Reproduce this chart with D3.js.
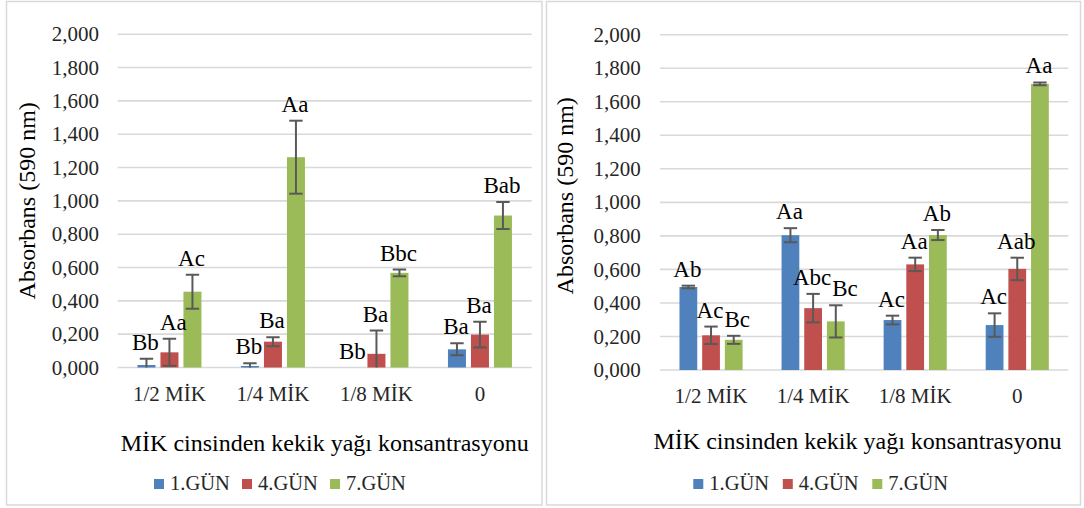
<!DOCTYPE html>
<html>
<head>
<meta charset="utf-8">
<script src="https://cdn.jsdelivr.net/npm/d3@7/dist/d3.min.js"></script>
<style>
  html, body { margin: 0; padding: 0; background: #ffffff; }
  svg { display: block; font-family: "Liberation Serif", "Times New Roman", serif; }
</style>
</head>
<body>
<svg id="chart" width="1084" height="508"></svg>
<script>
// Categories, series and tick labels
const categories = ["1/2 MİK", "1/4 MİK", "1/8 MİK", "0"];
const seriesNames = ["1.GÜN", "4.GÜN", "7.GÜN"];
const seriesColors = ["#4f81bd", "#c0504d", "#9bbb59"];
const tickValues = [0, 0.2, 0.4, 0.6, 0.8, 1.0, 1.2, 1.4, 1.6, 1.8, 2.0];
const tickLabels = ["0,000", "0,200", "0,400", "0,600", "0,800", "1,000", "1,200", "1,400", "1,600", "1,800", "2,000"];
const yTitle = "Absorbans (590 nm)";
const xTitle = "MİK cinsinden kekik yağı konsantrasyonu";

// Left chart: mean absorbance, error and significance letters per day
const leftDay1 = [0.015, 0.009, 0.000, 0.109];
const leftDay1Err = [0.038, 0.016, 0.000, 0.036];
const leftDay4 = [0.091, 0.155, 0.082, 0.197];
const leftDay4Err = [0.081, 0.027, 0.140, 0.077];
const leftDay7 = [0.455, 1.262, 0.568, 0.912];
const leftDay7Err = [0.102, 0.219, 0.020, 0.081];
const leftDay1Letters = ["Bb", "Bb", "Bb", "Ba"];
const leftDay4Letters = ["Aa", "Ba", "Ba", "Ba"];
const leftDay7Letters = ["Ac", "Aa", "Bbc", "Bab"];

// Right chart
const rightDay1 = [0.495, 0.804, 0.298, 0.268];
const rightDay1Err = [0.008, 0.042, 0.026, 0.070];
const rightDay4 = [0.207, 0.369, 0.630, 0.603];
const rightDay4Err = [0.052, 0.085, 0.040, 0.067];
const rightDay7 = [0.180, 0.290, 0.805, 1.707];
const rightDay7Err = [0.024, 0.096, 0.030, 0.008];
const rightDay1Letters = ["Ab", "Aa", "Ac", "Ac"];
const rightDay4Letters = ["Ac", "Abc", "Aa", "Aab"];
const rightDay7Letters = ["Bc", "Bc", "Ab", "Aa"];

function buildRows(vals, errs, letters) {
  const rows = [];
  categories.forEach((c, ci) => {
    seriesNames.forEach((s, si) => {
      rows.push({ cat: c, series: s, si, value: vals[si][ci], err: errs[si][ci], letter: letters[si][ci] });
    });
  });
  return rows;
}

const panels = [
  {
    id: "left",
    frame: { x0: 6.5, x1: 542, y0: 1.5, y1: 505 },
    plot: { left: 117.7, right: 531.7, top: 34.2, bottom: 367.5 },
    tickX: 99, yTitleX: 28.3, yTitleY: 200.8,
    catBaseline: 33, xTitleX: 324.7, xTitleY: 450.5,
    legendX: 154, legendStep: 88,
    rows: buildRows([leftDay1, leftDay4, leftDay7], [leftDay1Err, leftDay4Err, leftDay7Err],
                    [leftDay1Letters, leftDay4Letters, leftDay7Letters])
  },
  {
    id: "right",
    frame: { x0: 546.5, x1: 1080.5, y0: 1.5, y1: 505 },
    plot: { left: 660, right: 1068.3, top: 34.7, bottom: 370 },
    tickX: 640.7, yTitleX: 566.3, yTitleY: 195.8,
    catBaseline: 32.5, xTitleX: 857.5, xTitleY: 448.5,
    legendX: 693.3, legendStep: 89.5,
    rows: buildRows([rightDay1, rightDay4, rightDay7], [rightDay1Err, rightDay4Err, rightDay7Err],
                    [rightDay1Letters, rightDay4Letters, rightDay7Letters])
  }
];

const svg = d3.select("#chart");
const gridColor = "#d9d9d9";
const errColor = "#595959";

panels.forEach(p => {
  const g = svg.append("g").attr("class", "panel-" + p.id);

  // chart frame
  g.append("rect")
    .attr("x", p.frame.x0).attr("y", p.frame.y0)
    .attr("width", p.frame.x1 - p.frame.x0).attr("height", p.frame.y1 - p.frame.y0)
    .attr("fill", "#ffffff").attr("stroke", gridColor).attr("stroke-width", 1.5);

  const y = d3.scaleLinear().domain([0, 2]).range([p.plot.bottom, p.plot.top]);
  const x0 = d3.scaleBand().domain(categories).range([p.plot.left, p.plot.right]).padding(0);
  const x1 = d3.scaleBand().domain(seriesNames).range([0, x0.bandwidth()])
    .paddingInner(0.217).paddingOuter(0.859);
  const color = d3.scaleOrdinal().domain(seriesNames).range(seriesColors);

  // gridlines
  g.append("g").selectAll("line").data(tickValues).join("line")
    .attr("x1", p.plot.left).attr("x2", p.plot.right)
    .attr("y1", d => y(d)).attr("y2", d => y(d))
    .attr("stroke", gridColor).attr("stroke-width", 1.6);

  // y tick labels
  g.append("g").selectAll("text").data(tickValues).join("text")
    .attr("x", p.tickX).attr("y", d => y(d)).attr("dy", "0.34em")
    .attr("text-anchor", "end").attr("font-size", 21).attr("fill", "#262626")
    .text((d, i) => tickLabels[i]);

  // category labels
  g.append("g").selectAll("text").data(categories).join("text")
    .attr("x", d => x0(d) + x0.bandwidth() / 2)
    .attr("y", p.plot.bottom + p.catBaseline)
    .attr("text-anchor", "middle").attr("font-size", 21).attr("fill", "#262626")
    .text(d => d);

  const clipId = "clip-" + p.id;
  svg.append("clipPath").attr("id", clipId).append("rect")
    .attr("x", p.plot.left).attr("y", p.plot.top - 40)
    .attr("width", p.plot.right - p.plot.left).attr("height", p.plot.bottom - p.plot.top + 40);

  const barX = d => x0(d.cat) + x1(d.series);
  const barCx = d => barX(d) + x1.bandwidth() / 2;

  // bars
  g.append("g").selectAll("rect").data(p.rows.filter(d => d.value > 0)).join("rect")
    .attr("x", barX).attr("width", x1.bandwidth())
    .attr("y", d => y(d.value)).attr("height", d => y(0) - y(d.value))
    .attr("fill", d => color(d.series));

  // error bars
  const eg = g.append("g").attr("clip-path", `url(#${clipId})`)
    .selectAll("g").data(p.rows.filter(d => d.err > 0)).join("g");
  const cap = 6.7;
  eg.append("line")
    .attr("x1", barCx).attr("x2", barCx)
    .attr("y1", d => y(d.value + d.err)).attr("y2", d => y(d.value - d.err))
    .attr("stroke", errColor).attr("stroke-width", 2);
  eg.append("line")
    .attr("x1", d => barCx(d) - cap).attr("x2", d => barCx(d) + cap)
    .attr("y1", d => y(d.value + d.err)).attr("y2", d => y(d.value + d.err))
    .attr("stroke", errColor).attr("stroke-width", 2);
  eg.append("line")
    .attr("x1", d => barCx(d) - cap).attr("x2", d => barCx(d) + cap)
    .attr("y1", d => y(d.value - d.err)).attr("y2", d => y(d.value - d.err))
    .attr("stroke", errColor).attr("stroke-width", 2);

  // significance letters above each error bar
  const labels = g.append("g").selectAll("text").data(p.rows).join("text")
    .attr("x", d => barCx(d) - 1)
    .attr("y", d => y(d.value + d.err) - 9)
    .attr("text-anchor", "middle").attr("font-size", 23).attr("fill", "#000000")
    .text(d => d.letter);

  // within a group, slide a letter to the right when it collides with its left neighbour
  categories.forEach(c => {
    const nodes = labels.filter(d => d.cat === c).nodes();
    for (let i = 1; i < nodes.length; i++) {
      const a = nodes[i - 1].getBBox();
      const b = nodes[i].getBBox();
      const vOverlap = a.y < b.y + b.height - 4 && b.y < a.y + a.height - 4;
      const hOverlap = a.x + a.width + 1 - b.x;
      if (vOverlap && hOverlap > 0) {
        const cur = +nodes[i].getAttribute("x");
        nodes[i].setAttribute("x", cur + hOverlap);
      }
    }
  });

  // axis titles
  g.append("text")
    .attr("transform", `translate(${p.yTitleX},${p.yTitleY}) rotate(-90)`)
    .attr("dy", "0.27em").attr("text-anchor", "middle")
    .attr("font-size", 24).attr("fill", "#000000")
    .text(yTitle);
  g.append("text")
    .attr("x", p.xTitleX).attr("y", p.xTitleY)
    .attr("text-anchor", "middle").attr("font-size", 24).attr("fill", "#000000")
    .text(xTitle);

  // legend
  const lg = g.append("g").selectAll("g").data(seriesNames).join("g")
    .attr("transform", (d, i) => `translate(${p.legendX + i * p.legendStep},0)`);
  lg.append("rect").attr("x", 0).attr("y", 479).attr("width", 10).attr("height", 10)
    .attr("fill", d => color(d));
  lg.append("text").attr("x", 16).attr("y", 490)
    .attr("font-size", 20.5).attr("fill", "#262626")
    .text(d => d);
});
</script>
</body>
</html>
